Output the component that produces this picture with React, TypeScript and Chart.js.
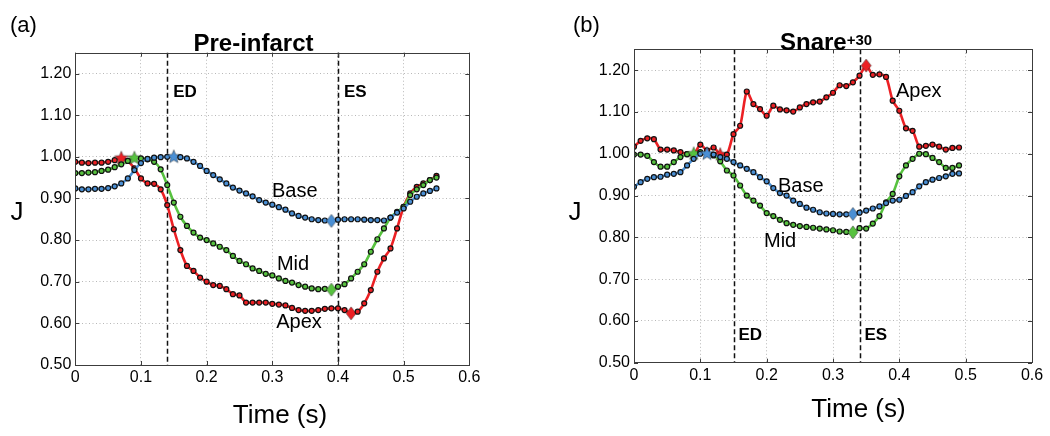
import React, { useEffect, useRef } from 'react';
import { Chart, registerables } from 'chart.js';

Chart.register(...registerables);

// ---------- data ----------
const TIMES_A = [
  0, 0.01, 0.02, 0.03, 0.04, 0.05, 0.06, 0.07, 0.08, 0.09,
  0.1, 0.11, 0.12, 0.13, 0.14, 0.15, 0.16, 0.17, 0.18, 0.19,
  0.2, 0.21, 0.22, 0.23, 0.24, 0.25, 0.26, 0.27, 0.28, 0.29,
  0.3, 0.31, 0.32, 0.33, 0.34, 0.35, 0.36, 0.37, 0.38, 0.39,
  0.4, 0.41, 0.42, 0.43, 0.44, 0.45, 0.46, 0.47, 0.48, 0.49,
  0.5, 0.51, 0.52, 0.53, 0.54, 0.55,
];
const APEX_A = [
  0.988, 0.986, 0.985, 0.986, 0.986, 0.988, 0.992, 0.998, 0.990, 0.972,
  0.948, 0.936, 0.935, 0.922, 0.884, 0.826, 0.776, 0.738, 0.726, 0.710,
  0.700, 0.692, 0.690, 0.682, 0.670, 0.667, 0.650, 0.650, 0.650, 0.650,
  0.647, 0.645, 0.643, 0.637, 0.632, 0.630, 0.630, 0.632, 0.635, 0.636,
  0.636, 0.632, 0.624, 0.628, 0.648, 0.680, 0.724, 0.756, 0.780, 0.828,
  0.880, 0.912, 0.928, 0.936, 0.944, 0.954,
];
const MID_A = [
  0.961, 0.961, 0.962, 0.963, 0.966, 0.969, 0.975, 0.982, 0.990, 0.998,
  0.996, 0.994, 0.988, 0.970, 0.932, 0.890, 0.856, 0.834, 0.818, 0.806,
  0.800, 0.792, 0.784, 0.776, 0.762, 0.750, 0.742, 0.732, 0.726, 0.719,
  0.715, 0.708, 0.702, 0.698, 0.692, 0.688, 0.684, 0.682, 0.683, 0.681,
  0.688, 0.694, 0.708, 0.724, 0.742, 0.772, 0.802, 0.828, 0.854, 0.868,
  0.880, 0.908, 0.922, 0.932, 0.944, 0.950,
];
const BASE_A = [
  0.924, 0.922, 0.922, 0.923, 0.923, 0.925, 0.929, 0.936, 0.948, 0.968,
  0.985, 0.995, 0.998, 0.999, 1.000, 1.001, 0.999, 0.996, 0.988, 0.978,
  0.966, 0.956, 0.946, 0.936, 0.926, 0.919, 0.912, 0.905, 0.896, 0.890,
  0.885, 0.879, 0.873, 0.864, 0.858, 0.854, 0.850, 0.848, 0.847, 0.846,
  0.849, 0.850, 0.850, 0.850, 0.849, 0.848, 0.848, 0.847, 0.854, 0.866,
  0.876, 0.892, 0.904, 0.912, 0.918, 0.924,
];

const TIMES_B = [
  0, 0.01, 0.02, 0.03, 0.04, 0.05, 0.06, 0.07, 0.08, 0.09,
  0.1, 0.11, 0.12, 0.13, 0.14, 0.15, 0.16, 0.17, 0.18, 0.19,
  0.2, 0.21, 0.22, 0.23, 0.24, 0.25, 0.26, 0.27, 0.28, 0.29,
  0.3, 0.31, 0.32, 0.33, 0.34, 0.35, 0.36, 0.37, 0.38, 0.39,
  0.4, 0.41, 0.42, 0.43, 0.44, 0.45, 0.46, 0.47, 0.48, 0.49,
];
const APEX_B = [
  1.017, 1.031, 1.037, 1.035, 1.010, 1.010, 1.008, 1.004, 0.999, 0.998,
  1.022, 1.008, 1.015, 0.999, 0.998, 1.047, 1.067, 1.149, 1.119, 1.107,
  1.091, 1.115, 1.106, 1.104, 1.101, 1.111, 1.119, 1.123, 1.125, 1.135,
  1.146, 1.164, 1.162, 1.171, 1.187, 1.211, 1.189, 1.190, 1.184, 1.127,
  1.103, 1.061, 1.055, 1.017, 1.019, 1.022, 1.017, 1.010, 1.014, 1.015,
];
const MID_B = [
  0.998, 0.998, 0.995, 0.980, 0.969, 0.969, 0.980, 0.992, 0.999, 1.001,
  1.004, 1.000, 0.996, 0.982, 0.960, 0.948, 0.924, 0.900, 0.888, 0.876,
  0.858, 0.851, 0.842, 0.834, 0.830, 0.827, 0.825, 0.823, 0.821, 0.819,
  0.817, 0.814, 0.813, 0.812, 0.822, 0.821, 0.833, 0.851, 0.884, 0.904,
  0.946, 0.972, 0.988, 1.000, 0.999, 0.990, 0.980, 0.966, 0.966, 0.972,
];
const BASE_B = [
  0.921, 0.932, 0.940, 0.944, 0.945, 0.950, 0.952, 0.956, 0.972, 0.988,
  1.000, 1.001, 0.998, 0.992, 0.988, 0.980, 0.972, 0.964, 0.956, 0.944,
  0.934, 0.918, 0.906, 0.900, 0.888, 0.880, 0.871, 0.866, 0.860, 0.857,
  0.856, 0.855, 0.855, 0.856, 0.859, 0.864, 0.869, 0.874, 0.882, 0.888,
  0.890, 0.899, 0.908, 0.922, 0.932, 0.938, 0.942, 0.946, 0.952, 0.953,
];

// index of the star (peak) and diamond (trough) marker in each series
const STAR_IDX_A = { apex: 7, mid: 9, base: 15 };
const DIAMOND_IDX_A = { apex: 42, mid: 39, base: 39 };
const STAR_IDX_B = { apex: 13, mid: 9, base: 11 };
const DIAMOND_IDX_B = { apex: 35, mid: 33, base: 33 };

const EVENTS_A = [{ name: 'ED', t: 0.14 }, { name: 'ES', t: 0.4 }];
const EVENTS_B = [{ name: 'ED', t: 0.15 }, { name: 'ES', t: 0.34 }];

const X_TICKS = [0, 0.1, 0.2, 0.3, 0.4, 0.5, 0.6];
const Y_TICKS = [0.5, 0.6, 0.7, 0.8, 0.9, 1.0, 1.1, 1.2];

// ---------- styling ----------
const FONT = "'Liberation Sans', Arial, Helvetica, sans-serif";
const RED = '#ec2024';
const GREEN = '#57c23f';
const BLUE = '#4a8fd4';

function makeStar(color: string, r: number) {
  const size = Math.ceil(r * 2 + 4);
  const c = document.createElement('canvas');
  c.width = size;
  c.height = size;
  const g = c.getContext('2d')!;
  g.beginPath();
  for (let i = 0; i < 10; i++) {
    const a = -Math.PI / 2 + (i * Math.PI) / 5;
    const rr = i % 2 === 0 ? r : r * 0.45;
    g.lineTo(size / 2 + rr * Math.cos(a), size / 2 + 0.5 + rr * Math.sin(a));
  }
  g.closePath();
  g.fillStyle = color;
  g.fill();
  g.strokeStyle = 'rgba(40,40,40,0.7)';
  g.lineWidth = 0.7;
  g.stroke();
  return c;
}

function makeDiamond(color: string, w: number, h: number) {
  const c = document.createElement('canvas');
  c.width = Math.ceil(w + 4);
  c.height = Math.ceil(h + 4);
  const g = c.getContext('2d')!;
  const cx = c.width / 2;
  const cy = c.height / 2;
  g.beginPath();
  g.moveTo(cx, cy - h / 2);
  g.lineTo(cx + w / 2, cy);
  g.lineTo(cx, cy + h / 2);
  g.lineTo(cx - w / 2, cy);
  g.closePath();
  g.fillStyle = color;
  g.fill();
  g.strokeStyle = 'rgba(40,40,40,0.7)';
  g.lineWidth = 0.7;
  g.stroke();
  return c;
}

type Label = { text: string; x: number; y: number };

type PanelCfg = {
  offset: number;
  padLeft: number;
  padRight: number;
  padTop: number;
  xAxisHeight: number;
  times: number[];
  series: { name: string; values: number[]; color: string; star: number; diamond: number }[];
  events: { name: string; t: number }[];
  eventLabelY: number;
  eventLabelDx: number;
  regionLabels: Label[];
  letter: { text: string; x: number; y: number };
  title: { text: string; sup: string; x: number; y: number };
  yTitle: { x: number; y: number };
  xTitle: { x: number; y: number };
};

const PANEL_A: PanelCfg = {
  offset: 0,
  padLeft: 0,
  padRight: 55.7,
  padTop: 52.7,
  xAxisHeight: 71,
  times: TIMES_A,
  series: [
    { name: 'Base', values: BASE_A, color: BLUE, star: STAR_IDX_A.base, diamond: DIAMOND_IDX_A.base },
    { name: 'Mid', values: MID_A, color: GREEN, star: STAR_IDX_A.mid, diamond: DIAMOND_IDX_A.mid },
    { name: 'Apex', values: APEX_A, color: RED, star: STAR_IDX_A.apex, diamond: DIAMOND_IDX_A.apex },
  ],
  events: EVENTS_A,
  eventLabelY: 1.143,
  eventLabelDx: 6,
  regionLabels: [
    { text: 'Base', x: 0.2995, y: 0.903 },
    { text: 'Mid', x: 0.307, y: 0.728 },
    { text: 'Apex', x: 0.306, y: 0.589 },
  ],
  letter: { text: '(a)', x: 10, y: 32 },
  title: { text: 'Pre-infarct', sup: '', x: 253.5, y: 50.5 },
  yTitle: { x: 17, y: 220 },
  xTitle: { x: 280, y: 423 },
};

const PANEL_B: PanelCfg = {
  offset: 525,
  padLeft: 33.7,
  padRight: 18,
  padTop: 49.3,
  xAxisHeight: 73.3,
  times: TIMES_B,
  series: [
    { name: 'Base', values: BASE_B, color: BLUE, star: STAR_IDX_B.base, diamond: DIAMOND_IDX_B.base },
    { name: 'Mid', values: MID_B, color: GREEN, star: STAR_IDX_B.mid, diamond: DIAMOND_IDX_B.mid },
    { name: 'Apex', values: APEX_B, color: RED, star: STAR_IDX_B.apex, diamond: DIAMOND_IDX_B.apex },
  ],
  events: EVENTS_B,
  eventLabelY: 0.554,
  eventLabelDx: 5,
  regionLabels: [
    { text: 'Base', x: 0.217, y: 0.908 },
    { text: 'Mid', x: 0.196, y: 0.777 },
    { text: 'Apex', x: 0.395, y: 1.136 },
  ],
  letter: { text: '(b)', x: 48, y: 32 },
  title: { text: 'Snare', sup: '+30', x: 255, y: 50 },
  yTitle: { x: 50, y: 220 },
  xTitle: { x: 333.5, y: 417 },
};

function Panel({ cfg }: { cfg: PanelCfg }) {
  const ref = useRef<HTMLCanvasElement>(null);

  useEffect(() => {
    const canvas = ref.current;
    if (!canvas) return;

    const stars: Record<string, HTMLCanvasElement> = {};
    const diamonds: Record<string, HTMLCanvasElement> = {};
    cfg.series.forEach((s) => {
      stars[s.name] = makeStar(s.color, 7);
      diamonds[s.name] = makeDiamond(s.color, 10, 13);
    });

    const overlay = {
      id: 'overlay',
      beforeDatasetsDraw(chart: any) {
        const { ctx, chartArea, scales } = chart;
        ctx.save();
        ctx.strokeStyle = '#111';
        ctx.lineWidth = 1.5;
        ctx.setLineDash([5, 3]);
        cfg.events.forEach((e) => {
          const x = Math.round(scales.x.getPixelForValue(e.t)) + 0.5;
          ctx.beginPath();
          ctx.moveTo(x, chartArea.top);
          ctx.lineTo(x, chartArea.bottom);
          ctx.stroke();
        });
        ctx.restore();
      },
      afterDraw(chart: any) {
        const { ctx, chartArea, scales } = chart;
        const { left, right, top, bottom } = chartArea;
        ctx.save();
        // box
        ctx.strokeStyle = '#3c3c3c';
        ctx.lineWidth = 1;
        ctx.setLineDash([]);
        ctx.strokeRect(Math.round(left) + 0.5, Math.round(top) + 0.5, Math.round(right - left), Math.round(bottom - top));
        // inward ticks
        ctx.beginPath();
        X_TICKS.forEach((t) => {
          const x = Math.round(scales.x.getPixelForValue(t)) + 0.5;
          ctx.moveTo(x, bottom);
          ctx.lineTo(x, bottom - 4);
          ctx.moveTo(x, top);
          ctx.lineTo(x, top + 4);
        });
        Y_TICKS.forEach((v) => {
          const y = Math.round(scales.y.getPixelForValue(v)) + 0.5;
          ctx.moveTo(left, y);
          ctx.lineTo(left + 4, y);
          ctx.moveTo(right, y);
          ctx.lineTo(right - 4, y);
        });
        ctx.stroke();

        ctx.fillStyle = '#000';
        ctx.textBaseline = 'alphabetic';
        // event labels
        ctx.font = `bold 17px ${FONT}`;
        ctx.textAlign = 'left';
        cfg.events.forEach((e) => {
          ctx.fillText(
            e.name,
            scales.x.getPixelForValue(e.t) + cfg.eventLabelDx,
            scales.y.getPixelForValue(cfg.eventLabelY),
          );
        });
        // region labels
        ctx.font = `20px ${FONT}`;
        cfg.regionLabels.forEach((l) => {
          ctx.fillText(l.text, scales.x.getPixelForValue(l.x), scales.y.getPixelForValue(l.y));
        });
        // panel letter
        ctx.font = `22px ${FONT}`;
        ctx.fillText(cfg.letter.text, cfg.letter.x, cfg.letter.y);
        // title
        ctx.font = `bold 24px ${FONT}`;
        if (cfg.title.sup) {
          ctx.textAlign = 'left';
          ctx.fillText(cfg.title.text, cfg.title.x, cfg.title.y);
          const w = ctx.measureText(cfg.title.text).width;
          ctx.font = `bold 15px ${FONT}`;
          ctx.fillText(cfg.title.sup, cfg.title.x + w, cfg.title.y - 5);
        } else {
          ctx.textAlign = 'center';
          ctx.fillText(cfg.title.text, cfg.title.x, cfg.title.y);
        }
        // axis titles
        ctx.textAlign = 'center';
        ctx.font = `26px ${FONT}`;
        ctx.fillText('J', cfg.yTitle.x, cfg.yTitle.y);
        ctx.fillText('Time (s)', cfg.xTitle.x, cfg.xTitle.y);
        ctx.restore();
      },
    };

    const datasets = cfg.series.map((s) => ({
      label: s.name,
      data: cfg.times.map((t, i) => ({ x: t, y: s.values[i] })),
      borderColor: s.color,
      backgroundColor: s.color,
      borderWidth: 2.6,
      tension: 0.25,
      pointRadius: 2.5,
      pointBorderWidth: 1.2,
      pointBorderColor: '#111',
      pointBackgroundColor: s.color,
      pointStyle: (c: any) =>
        c.dataIndex === s.star ? stars[s.name] : c.dataIndex === s.diamond ? diamonds[s.name] : 'circle',
    }));

    const chart = new Chart(canvas, {
      type: 'line',
      data: { datasets },
      plugins: [overlay],
      options: {
        responsive: false,
        animation: false,
        events: [],
        layout: { padding: { left: cfg.padLeft, right: cfg.padRight, top: cfg.padTop, bottom: 0 } },
        plugins: { legend: { display: false }, tooltip: { enabled: false }, title: { display: false } },
        scales: {
          x: {
            type: 'linear',
            min: 0,
            max: 0.6,
            afterFit: (s: any) => {
              s.height = cfg.xAxisHeight;
            },
            afterBuildTicks: (s: any) => {
              s.ticks = X_TICKS.map((v) => ({ value: v }));
            },
            ticks: {
              color: '#000',
              font: { size: 16, family: FONT },
              padding: 3,
              maxRotation: 0,
              autoSkip: false,
              callback: (v: any) => (Number(v) === 0 ? '0' : Number(v).toFixed(1)),
            },
            grid: { color: '#b8b8b8', lineWidth: 1, drawTicks: false },
            border: { display: false, dash: [1, 2.5] },
          },
          y: {
            type: 'linear',
            min: 0.5,
            max: 1.25,
            afterFit: (s: any) => {
              s.width = 75.3;
            },
            afterBuildTicks: (s: any) => {
              s.ticks = Y_TICKS.map((v) => ({ value: v }));
            },
            ticks: {
              color: '#000',
              font: { size: 16, family: FONT },
              padding: 4,
              autoSkip: false,
              callback: (v: any) => Number(v).toFixed(2),
            },
            grid: { color: '#b8b8b8', lineWidth: 1, drawTicks: false },
            border: { display: false, dash: [1, 2.5] },
          },
        },
      } as any,
    });

    return () => chart.destroy();
  }, [cfg]);

  return (
    <canvas
      ref={ref}
      width={525}
      height={436}
      style={{ position: 'absolute', left: cfg.offset, top: 0, width: 525, height: 436 }}
    />
  );
}

export default function App() {
  return (
    <div style={{ position: 'absolute', left: 0, top: 0, width: 1050, height: 436, background: '#fff' }}>
      <Panel cfg={PANEL_A} />
      <Panel cfg={PANEL_B} />
    </div>
  );
}
